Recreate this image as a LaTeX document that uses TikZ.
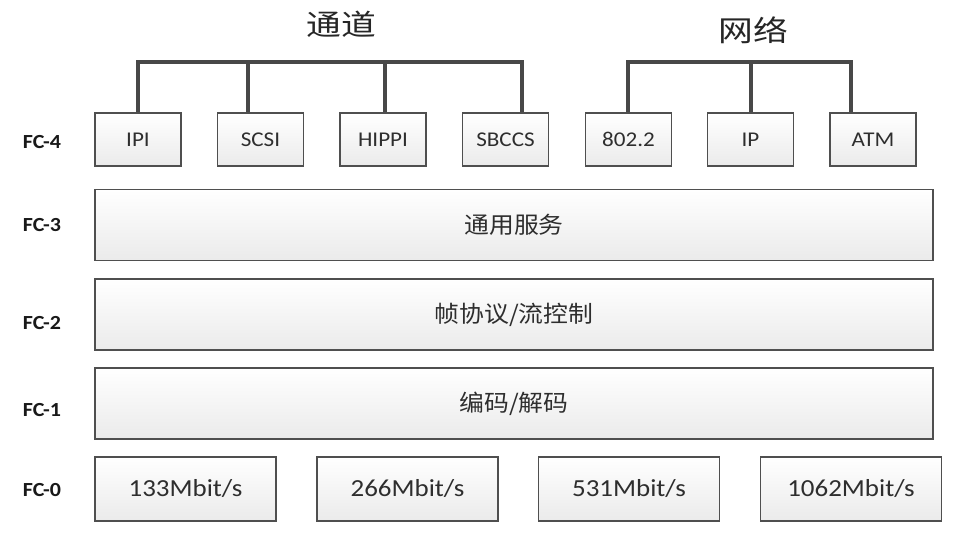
\documentclass[tikz,border=0pt]{standalone}
\usepackage{fontspec}
\setmainfont{Carlito}[FakeStretch=1.1]
\newfontfamily\cjk{Noto Sans CJK SC}[FakeStretch=1.08]
\newfontfamily\cjktitle{Noto Sans CJK SC}[FakeStretch=1.2]
\definecolor{edge}{HTML}{4F4F4F}
\definecolor{bus}{HTML}{484848}
\definecolor{txt}{HTML}{2E2E2E}
\tikzset{
  layerbox/.style={draw=edge, line width=1.3pt, top color=white, bottom color=black!8,
    inner sep=0pt, text=txt},
  protobox/.style={layerbox, minimum width=86pt, minimum height=53pt,
    font=\fontsize{21}{24}\selectfont},
  ratebox/.style={layerbox, minimum width=181pt, minimum height=64pt,
    font=\fontsize{24.5}{28}\selectfont},
  widebox/.style={layerbox, minimum width=838pt, minimum height=71pt,
    font=\cjk\fontsize{23}{26}\selectfont},
  fclabel/.style={font=\bfseries\fontsize{20}{24}\selectfont, text=black!90},
  title/.style={font=\cjktitle\fontsize{29}{32}\selectfont, text=black!85},
  busline/.style={draw=bus, line width=3.6pt, line join=miter}
}
\begin{document}
\begin{tikzpicture}[x=1pt,y=-1pt]
\useasboundingbox (0,0) rectangle (954,533);
\fill[white] (0,0) rectangle (954,533);

% titles
\node[title] (tch) at (341,24) {通道};
\node[title] (tnet) at (753,30) {网络};

% FC-4 protocol boxes
\node[protobox] (ipi)   at (138,139.5)   {IPI};
\node[protobox] (scsi)  at (260.5,139.5) {SCSI};
\node[protobox] (hippi) at (383,139.5)   {HIPPI};
\node[protobox] (sbccs) at (505.5,139.5) {SBCCS};
\node[protobox] (p802)  at (628.5,139.5) {802.2};
\node[protobox] (ip)    at (750.5,139.5) {IP};
\node[protobox] (atm)   at (873,139.5)   {ATM};

% bus coordinates
\coordinate (c1) at (138,62);
\coordinate (c2) at (248,62);
\coordinate (c3) at (385,62);
\coordinate (c4) at (522,62);
\coordinate (n1) at (628,62);
\coordinate (n2) at (751,62);
\coordinate (n3) at (851,62);

\draw[busline] (c1 |- ipi.north) -- (c1) -- (c4) -- (c4 |- sbccs.north);
\draw[busline] (c2) -- (c2 |- scsi.north);
\draw[busline] (c3) -- (c3 |- hippi.north);
\draw[busline] (n1 |- p802.north) -- (n1) -- (n3) -- (n3 |- atm.north);
\draw[busline] (n2) -- (n2 |- ip.north);

% wide layers
\node[widebox] (fc3) at (514,225)   {通用服务};
\node[widebox] (fc2) at (514,314.5) {帧协议/流控制};
\node[widebox] (fc1) at (514,403.5) {编码/解码};

% FC-0 boxes
\node[ratebox] (r1) at (185.5,489) {133Mbit/s};
\node[ratebox] (r2) at (407.5,489) {266Mbit/s};
\node[ratebox] (r3) at (629,489)   {531Mbit/s};
\node[ratebox] (r4) at (851,489)   {1062Mbit/s};

% level labels
\node[fclabel] (l4) at (42,142) {FC-4};
\node[fclabel] (l3) at (42,225) {FC-3};
\node[fclabel] (l2) at (42,323) {FC-2};
\node[fclabel] (l1) at (42,410) {FC-1};
\node[fclabel] (l0) at (42,490) {FC-0};
\end{tikzpicture}
\end{document}
